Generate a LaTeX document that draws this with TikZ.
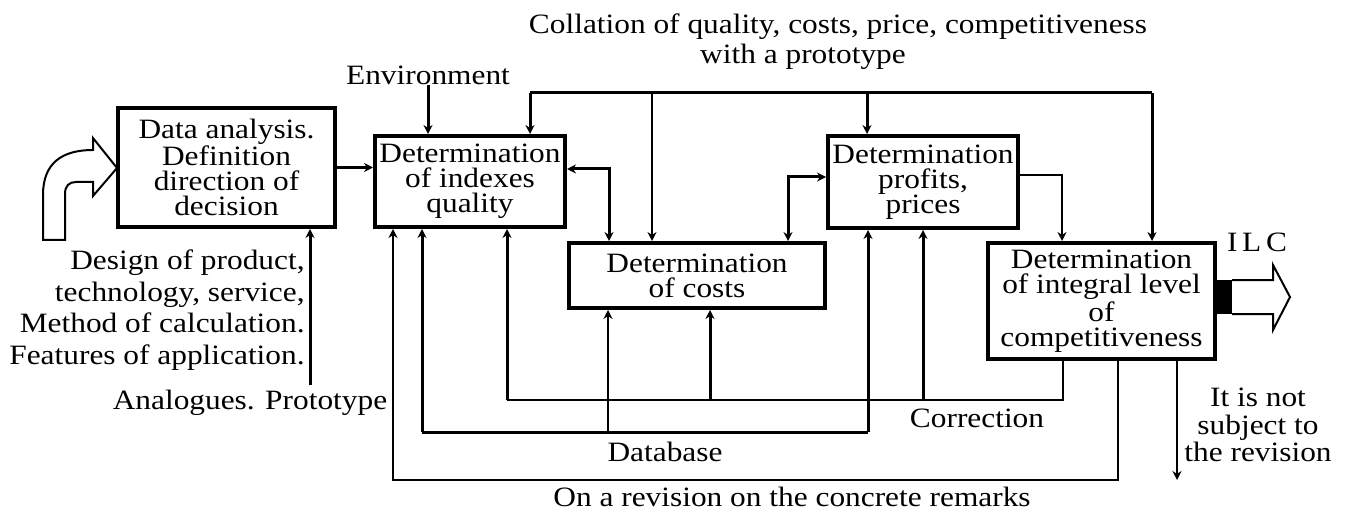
\documentclass[tikz,border=0pt]{standalone}
\usepackage{fontspec}
\setmainfont{Liberation Serif}[FakeStretch=1.12]
\usetikzlibrary{arrows.meta}
\tikzstyle{block} = [rectangle, draw, line width=2pt, align=center, inner sep=1pt,
font=\fontsize{14}{12.5}\selectfont]
\tikzstyle{thk} = [draw, line width=1.5pt]
\tikzstyle{thn} = [draw, line width=0.75pt]
\tikzstyle{lbl} = [align=center, inner sep=0pt]

\begin{document}
\begin{tikzpicture}[x=0.5pt,y=-0.5pt,>={Stealth[length=4.5pt,width=4.5pt]},font=\fontsize{14}{15}\selectfont]
\useasboundingbox (0,0) rectangle (1348,513);

         \node (anal) [block, minimum width=108.5pt, minimum height=59.5pt] at (226.5,167.5) {Data analysis.\\ Definition\\ direction of\\ decision};
         \node (qual) [block, minimum width=95pt, minimum height=45.5pt] at (470,181.5) {Determination\\ of indexes\\ quality};
         \node (costs) [block, minimum width=128pt, minimum height=32.5pt] at (697,275.5) {Determination\\ of costs};
         \node (prof) [block, minimum width=95pt, minimum height=46pt] at (923,182) {Determination\\ profits,\\ prices};
         \node (ilc) [block, minimum width=113.5pt, minimum height=58pt] at (1101.5,301) {Determination\\ of integral level\\ of\\ competitiveness};

         \node (coll) [lbl] at (838,27) {Collation of quality, costs, price, competitiveness};
         \node (proto) [lbl] at (803,57) {with a prototype};
         \node (env) [lbl] at (428,75) {Environment};
         \node (design) [lbl, align=right, anchor=east, font=\fontsize{14}{15.75}\selectfont] at (305,310) {Design of product,\\ technology, service,\\ Method of calculation.\\ Features of application.};
         \node (analog) [lbl] at (250,403) {Analogues. Prototype};
         \node (ilclbl) [lbl] at (1257,242) {I\,L\,C};
         \node (db) [lbl] at (665,452) {Database};
         \node (corr) [lbl] at (977,418) {Correction};
         \node (rev) [lbl] at (792,497) {On a revision on the concrete remarks};
         \node (notsub) [lbl, font=\fontsize{14}{13.75}\selectfont] at (1258,425) {It is not\\ subject to\\ the revision};

         % input arrow
         \draw[line width=1pt] (43,240) -- (43,195) .. controls (43,163) and (62,150) .. (93,150) -- (93,138) -- (117,168) -- (93,196) -- (93,182) -- (76,182) .. controls (69,182) and (65,186) .. (65,194) -- (65,240) -- cycle;

         % output arrow
         \fill (1216,280) rectangle (1232,314);
         \draw[line width=1pt] (1232,280) -- (1273,280) -- (1273,265) -- (1290,297) -- (1273,330) -- (1273,314) -- (1232,314);

         \coordinate (busL) at (530,93);
         \coordinate (busR) at (1152,93);
         \coordinate (tapC) at (652,93);
         \coordinate (tapP) at (867,93);
         \coordinate (anIn) at (310,385);
         \coordinate (qc) at (609,169);
         \coordinate (cp) at (788,177);
         \coordinate (pi) at (1062,175);
         \coordinate (dbL) at (422,432);
         \coordinate (dbC) at (608,432);
         \coordinate (dbR) at (868,432);
         \coordinate (corL) at (507,400);
         \coordinate (corC) at (710,400);
         \coordinate (corP) at (923,400);
         \coordinate (corR) at (1063,400);
         \coordinate (revL) at (393,480);
         \coordinate (revR) at (1118,480);
         \coordinate (nsEnd) at (1177,480);

         \path [thk,->] (anal.east) -- (anal.east -| qual.west);
         \path [thk,->] (env.south) -- (env.south |- qual.north);
         \path [thk,->] (anIn) -- (anIn |- anal.south);

         \path [thk] (busL) -- (busR);
         \path [thk,->] (busL) -- (busL |- qual.north);
         \path [thn,->] (tapC) -- (tapC |- costs.north);
         \path [thk,->] (tapP) -- (tapP |- prof.north);
         \path [thk,->] (busR) -- (busR |- ilc.north);

         \path [thk,<->] (qc -| qual.east) -- (qc) -- (qc |- costs.north);
         \path [thk,<->] (cp |- costs.north) -- (cp) -- (cp -| prof.west);
         \path [thn,->] (pi -| prof.east) -- (pi) -- (pi |- ilc.north);

         \path [thk] (dbL) -- (dbR);
         \path [thk,->] (dbL) -- (dbL |- qual.south);
         \path [thn,->] (dbC) -- (dbC |- costs.south);
         \path [thk,->] (dbR) -- (dbR |- prof.south);

         \path [thn] (corR |- ilc.south) -- (corR) -- (corL);
         \path [thk,->] (corL) -- (corL |- qual.south);
         \path [thk,->] (corC) -- (corC |- costs.south);
         \path [thk,->] (corP) -- (corP |- prof.south);

         \path [thn,->] (revR |- ilc.south) -- (revR) -- (revL) -- (revL |- qual.south);
         \path [thn,->] (nsEnd |- ilc.south) -- (nsEnd);

\end{tikzpicture}
\end{document}
